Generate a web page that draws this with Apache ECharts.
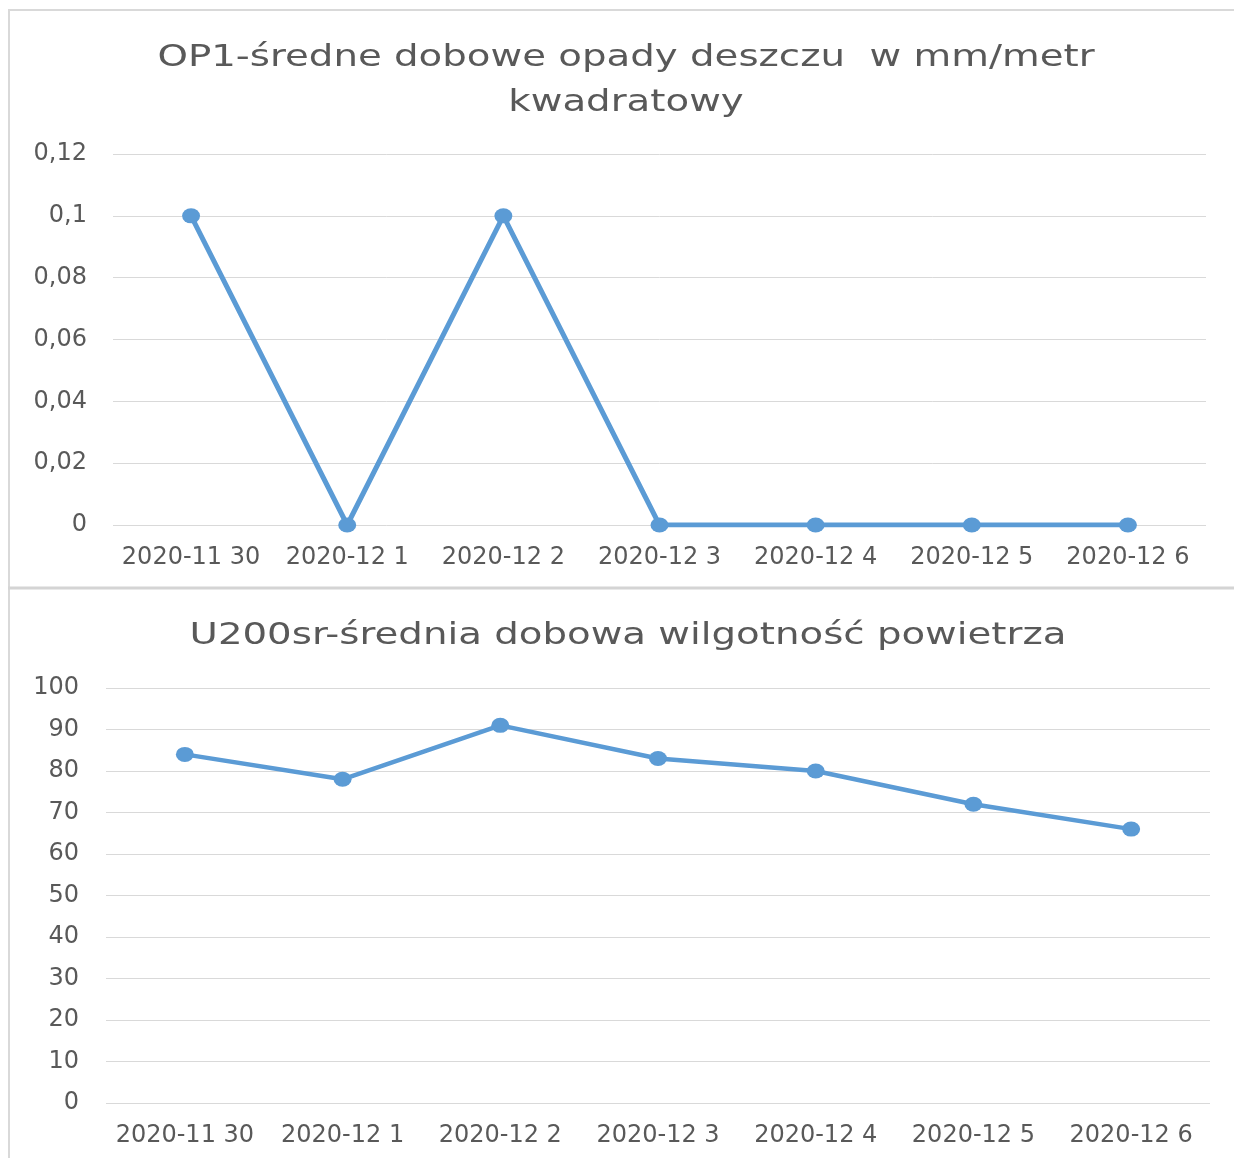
<!DOCTYPE html>
<html>
<head>
<meta charset="utf-8">
<script src="https://cdn.jsdelivr.net/npm/echarts@6/dist/echarts.min.js"></script>
<style>
html,body{margin:0;padding:0;background:#fff;}
#chart{width:1234px;height:1158px;}
</style>
</head>
<body>
<div id="chart"></div>
<script>
var categories = ['2020-11 30','2020-12 1','2020-12 2','2020-12 3','2020-12 4','2020-12 5','2020-12 6'];
var rainValues = [0.1, 0, 0.1, 0, 0, 0, 0];
var humidityValues = [84, 78, 91, 83, 80, 72, 66];
var titleTopLine1 = 'OP1-średne dobowe opady deszczu  w mm/metr';
var titleTopLine2 = 'kwadratowy';
var titleBottom = 'U200sr-średnia dobowa wilgotność powietrza';

var TXT = '#595959';
var LINE = '#5b9bd5';
var GRIDC = '#d9d9d9';
var FONT = 'DejaVu Sans';

function fmtComma(v){
  var r = Math.round(v*1000)/1000;
  return String(r).replace('.', ',');
}

function titleText(txt, x, y){
  return {
    type:'text', x:x, y:y, scaleX:1.29, scaleY:1, silent:true,
    style:{text:txt, fontSize:30, fontFamily:FONT, fill:TXT,
      align:'center', verticalAlign:'middle', textAlign:'center', textVerticalAlign:'middle'}
  };
}

var chart = echarts.init(document.getElementById('chart'), null, {renderer:'canvas'});

var xAxisCommon = {
  type:'category', data:categories, boundaryGap:true,
  axisLine:{show:false}, axisTick:{show:false},
  axisLabel:{color:TXT, fontSize:24, fontFamily:FONT, margin:21, interval:0}
};

chart.setOption({
  animation:false,
  backgroundColor:'#fff',
  graphic:[
    {type:'line', shape:{x1:8, y1:10, x2:1234, y2:10}, style:{stroke:'#d9d9d9', lineWidth:2}, silent:true},
    {type:'line', shape:{x1:9, y1:10, x2:9, y2:1158}, style:{stroke:'#d9d9d9', lineWidth:2}, silent:true},
    {type:'line', shape:{x1:8, y1:588, x2:1234, y2:588}, style:{stroke:'#d4d4d4', lineWidth:3}, silent:true},
    titleText(titleTopLine1, 626, 58),
    titleText(titleTopLine2, 626, 103),
    titleText(titleBottom, 628, 636)
  ],
  grid:[
    {left:113, right:28, top:154, height:371, containLabel:false},
    {left:106, right:24, top:688, height:415, containLabel:false}
  ],
  xAxis:[
    Object.assign({gridIndex:0}, xAxisCommon),
    Object.assign({gridIndex:1}, xAxisCommon)
  ],
  yAxis:[
    {type:'value', gridIndex:0, min:0, max:0.12, interval:0.02,
      axisLine:{show:false}, axisTick:{show:false},
      splitLine:{lineStyle:{color:GRIDC, width:1}},
      axisLabel:{color:TXT, fontSize:24, fontFamily:FONT, margin:26, formatter:fmtComma}},
    {type:'value', gridIndex:1, min:0, max:100, interval:10,
      axisLine:{show:false}, axisTick:{show:false},
      splitLine:{lineStyle:{color:GRIDC, width:1}},
      axisLabel:{color:TXT, fontSize:24, fontFamily:FONT, margin:27}}
  ],
  series:[
    {type:'line', xAxisIndex:0, yAxisIndex:0, data:rainValues,
      symbol:'circle', symbolSize:[18,15], showSymbol:true,
      lineStyle:{color:LINE, width:5}, itemStyle:{color:LINE}},
    {type:'line', xAxisIndex:1, yAxisIndex:1, data:humidityValues,
      symbol:'circle', symbolSize:[18,15], showSymbol:true,
      lineStyle:{color:LINE, width:4.5}, itemStyle:{color:LINE}}
  ]
});
</script>
</body>
</html>
